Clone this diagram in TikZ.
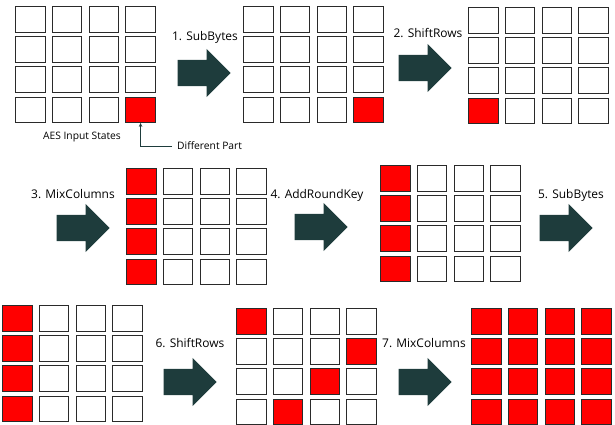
\documentclass[tikz,border=0pt]{standalone}
\usepackage{fontspec}
\setmainfont{Open Sans}
\usetikzlibrary{positioning,arrows.meta,shapes.arrows}
\definecolor{aesred}{HTML}{FF0000}
\definecolor{slate}{HTML}{1E3C3C}
\definecolor{edge}{HTML}{2A2A2A}
\tikzset{
  cell/.style={draw=edge, fill=white, line width=0.8pt, minimum width=29.5bp,
    minimum height=25.5bp, inner sep=0pt, anchor=north west},
  bigarrow/.style={single arrow, fill=slate, draw=none, minimum height=53bp,
    minimum width=48bp, single arrow head extend=11bp, inner xsep=0pt,
    inner ysep=13bp, anchor=tip},
  steplab/.style={font=\fontsize{12}{12}\selectfont, text=black, inner sep=0pt},
  note/.style={font=\fontsize{10.3}{10.3}\selectfont, text=black, inner sep=0pt},
  pointer/.style={-{Stealth[length=4pt,width=3.5pt]}, line width=1pt, color=slate},
}
% 4x4 state: name, left, top, which cells are red (pgfmath test on \r,\c)
\newcommand{\stategrid}[4]{%
  \foreach \r in {1,...,4}
    \foreach \c in {1,...,4} {
      \pgfmathtruncatemacro\hot{#4}
      \ifnum\hot=1 \def\cellfill{aesred}\else \def\cellfill{white}\fi
      \node[cell, fill=\cellfill] (#1-\r-\c) at ({#2+(\c-1)*36.8},{#3+(\r-1)*30.2}) {};
    }
}

\begin{document}
\begin{tikzpicture}[x=1bp,y=-1bp]
  \useasboundingbox (0,0) rectangle (615,424);

  % first row
  \stategrid{in}{15}{6}{and(\r==4,\c==4)}
  \stategrid{sb}{243}{6}{and(\r==4,\c==4)}
  \stategrid{sr}{468}{7}{and(\r==4,\c==1)}
  \node[note] (instates) at (82,137) {AES Input States};
  \node[note, inner xsep=5bp, anchor=west] (diff) at (172,146) {Different Part};
  \draw[pointer] (diff.west) -| (in-4-4.south);

  % second row
  \stategrid{mc}{126}{168}{\c==1}
  \stategrid{ark}{380}{165}{\c==1}

  % third row
  \stategrid{sbb}{2}{305}{\c==1}
  \stategrid{srr}{236}{308}{\c==mod(5-\r,4)+1}
  \stategrid{mcc}{471}{308}{1}

  % round steps
  \node[bigarrow] (a1) at (231,73) {};
  \node[bigarrow] (a2) at (452,68) {};
  \node[bigarrow] (a3) at (110,228) {};
  \node[bigarrow] (a4) at (348,227) {};
  \node[bigarrow] (a5) at (593,228) {};
  \node[bigarrow] (a6) at (217,382) {};
  \node[bigarrow] (a7) at (452,382) {};

  \node[steplab] (l1) at (205,37) {1. SubBytes};
  \node[steplab] (l2) at (428,33) {2. ShiftRows};
  \node[steplab] (l3) at (73,194) {3. MixColumns};
  \node[steplab] (l4) at (317,195) {4. AddRoundKey};
  \node[steplab] (l5) at (571,195) {5. SubBytes};
  \node[steplab] (l6) at (190,343) {6. ShiftRows};
  \node[steplab] (l7) at (424,343) {7. MixColumns};
\end{tikzpicture}
\end{document}
